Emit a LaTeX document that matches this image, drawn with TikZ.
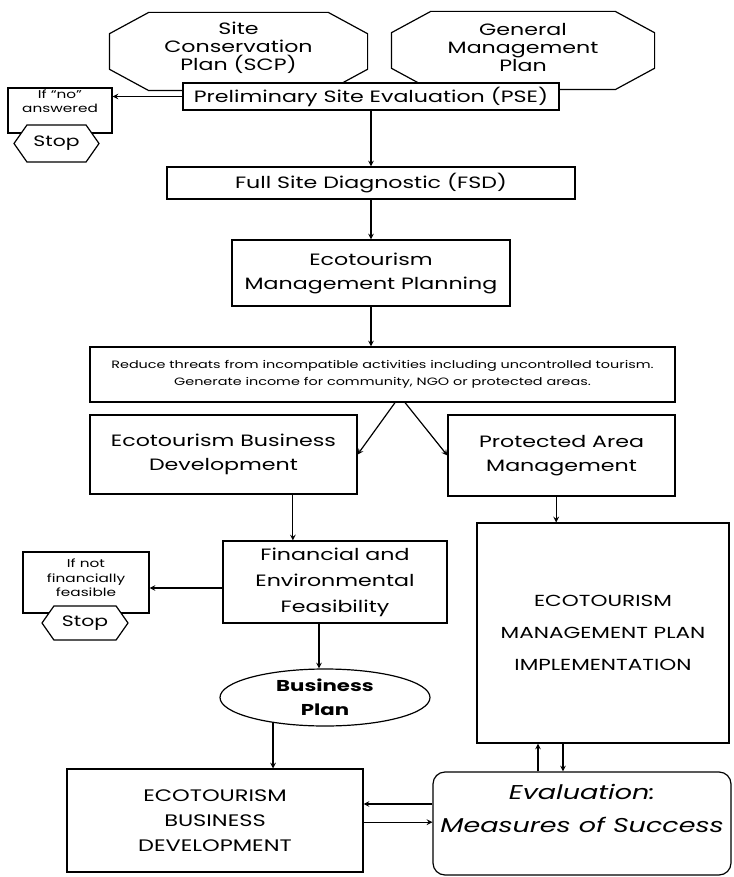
\documentclass[tikz,border=0pt]{standalone}
\usepackage{fontspec}
\setmainfont{Poppins}[FakeStretch=1.35]
\usetikzlibrary{shapes.geometric,shapes.symbols}

\begin{document}
\begin{tikzpicture} [x=0.75pt, y=-0.75pt, line width=0.9pt, >=stealth, font=\fontsize{12.3}{18}\selectfont,
		box/.style={draw, fill=white, align=center, inner sep=0pt},
		octtxt/.style={align=center, inner sep=0pt, minimum height=57.75pt, font=\fontsize{12.3}{13.5}\selectfont},
		stophex/.style={box, signal, signal to=east and west, signal pointer angle=110, font=\fontsize{11.3}{12}\selectfont},
		smalltxt/.style={box, font=\fontsize{8.5}{11}\selectfont}]
			\useasboundingbox (0,0) rectangle (733,877);
			\node[octtxt, minimum width=192.75pt] (scp) at (238.5,51.5) {Site\\Conservation\\Plan (SCP)\\[-6pt]\mbox{}};
			\node[octtxt, minimum width=196.5pt] (gmp) at (523,50.5) {General\\Management\\Plan\\[-9.5pt]\mbox{}};
			\foreach \o in {scp,gmp}
				\draw ([xshift=29.5pt]\o.north west)--([xshift=-29.5pt]\o.north east)--([yshift=-16pt]\o.north east)--([yshift=16pt]\o.south east)--([xshift=-29.5pt]\o.south east)--([xshift=29.5pt]\o.south west)--([yshift=16pt]\o.south west)--([yshift=-16pt]\o.north west)--cycle;
			\node[box, minimum width=282pt, minimum height=20.25pt] (pse) at (371,96.5) {Preliminary Site Evaluation (PSE)};
			\node[smalltxt, minimum width=78pt, minimum height=33.75pt] (ifno) at (60,110.5) {If ``no''\\answered\\[3pt]\mbox{}};
			\node[stophex, minimum width=63.75pt, minimum height=27.75pt] (stopa) at (56.5,143.5) {Stop};
			\node[box, minimum width=306pt, minimum height=24pt] (fsd) at (371,183) {Full Site Diagnostic (FSD)};
			\node[box, minimum width=208.5pt, minimum height=49.5pt] (emp) at (371,273) {Ecotourism\\Management Planning};
			\node[box, minimum width=438.75pt, minimum height=41.25pt, font=\fontsize{8}{12.75}\selectfont] (reduce) at (382.5,374.5) {Reduce threats from incompatible activities including uncontrolled tourism.\\Generate income for community, NGO or protected areas.};
			\node[box, minimum width=200.25pt, minimum height=59.25pt] (ebd) at (223.5,454.5) {Ecotourism Business\\Development};
			\node[box, minimum width=170.25pt, minimum height=60.75pt] (pam) at (561.5,455.5) {Protected Area\\Management};
			\node[box, minimum width=168pt, minimum height=61.5pt, font=\fontsize{12.3}{19.5}\selectfont] (fin) at (335,582) {Financial and\\Environmental\\Feasibility};
			\node[smalltxt, minimum width=94.5pt, minimum height=45.75pt] (nofin) at (86,582.5) {If not\\financially\\feasible\\[-4pt]\mbox{}};
			\node[stophex, minimum width=64.5pt, minimum height=25.5pt] (stopb) at (85,623) {Stop};
			\node[box, minimum width=189pt, minimum height=165pt, font=\fontsize{12}{24}\selectfont] (empi) at (603,633) {ECOTOURISM\\MANAGEMENT PLAN\\IMPLEMENTATION};
			\node[box, ellipse, minimum width=157.5pt, minimum height=42.75pt, font=\bfseries\fontsize{11.8}{18}\selectfont] (bplan) at (325,697.5) {Business\\Plan};
			\node[box, minimum width=222pt, minimum height=77.25pt, font=\fontsize{12.5}{19}\selectfont] (eco) at (215,820.5) {ECOTOURISM\\BUSINESS\\DEVELOPMENT};
			\node[box, rounded corners=9pt, minimum width=223.5pt, minimum height=77.25pt, font=\itshape\fontsize{15}{24.75}\selectfont] (eval) at (582,823.5) {Evaluation:\\Measures of Success\\[-2.25pt]\mbox{}};
			\draw[->] (pse.south)--(fsd.north);
			\draw[->] (pse.west)--(pse.west -| ifno.east);
			\draw[->] (fsd.south)--(emp.north);
			\draw[->] (emp.south)--(emp.south |- reduce.north);
			\draw[->] ([xshift=9.4pt]reduce.south)--(ebd.east);
			\draw[->] ([xshift=16.9pt]reduce.south)--(pam.west);
			\draw[->] ([xshift=52pt]ebd.south)--([xshift=52pt]ebd.south |- fin.north);
			\draw[->] ([xshift=-4pt]pam.south)--([xshift=-4pt]pam.south |- empi.north);
			\draw[->] ([yshift=-4.5pt]fin.west)--([yshift=-4.5pt]fin.west -| nofin.east);
			\draw[->] ([xshift=-12pt]fin.south)--([xshift=-12pt]fin.south |- bplan.north);
			\draw[->] (bplan.206)--(bplan.206 |- eco.north);
			\draw[->] ([xshift=-33pt]eval.north)--([xshift=-33pt]eval.north |- empi.south);
			\draw[->] ([xshift=-14.25pt]eval.north |- empi.south)--([xshift=-14.25pt]eval.north);
			\draw[->] ([yshift=14.6pt]eval.west)--([yshift=14.6pt]eval.west -| eco.east);
			\draw[->] ([yshift=1pt]eval.west -| eco.east)--([yshift=1pt]eval.west);
		\end{tikzpicture}
\end{document}
